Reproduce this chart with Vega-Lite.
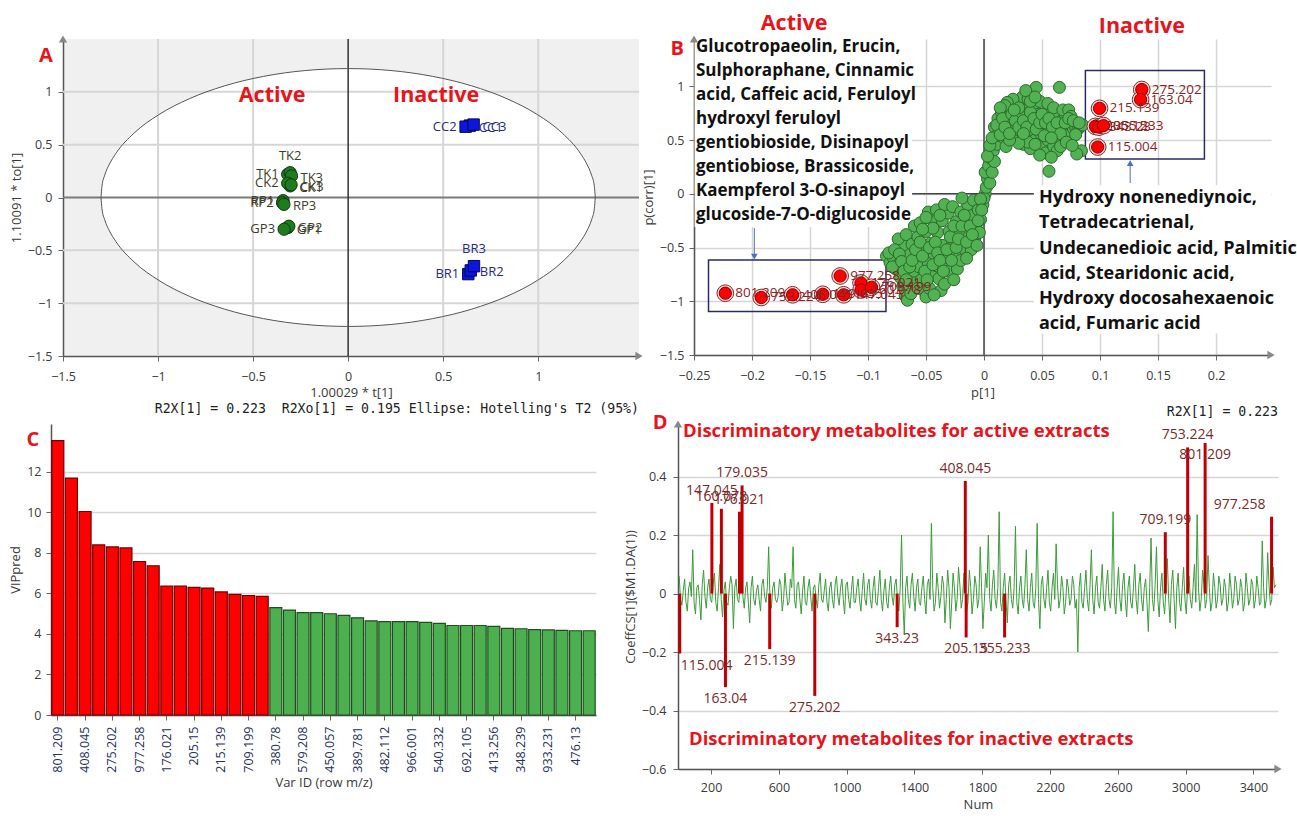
{
"$schema": "https://vega.github.io/schema/vega-lite/v6.json",
"background": "white",
"padding": {"left": 9, "top": 13, "right": 5, "bottom": 5},
"bounds": "flush",
"spacing": 385,
"config": {
  "view": {"stroke": null},
  "font": "Open Sans",
  "axis": {"labelFont": "Open Sans", "labelFontSize": 12.5, "labelColor": "#3a3a3a", "titleFont": "Open Sans", "titleFontSize": 13, "titleFontWeight": "normal", "titleColor": "#3a3a3a", "domainColor": "#555555", "domainWidth": 1.5, "tickColor": "#666666", "gridColor": "#d6d6d6", "gridWidth": 1.5, "labelFlush": false, "tickSize": 5}
},
"datasets": {
  "ellipse": [
    {"ex": 1.3, "top": 0, "bot": 0},
    {"ex": 1.2951, "top": 0.1063, "bot": -0.1063},
    {"ex": 1.2803, "top": 0.2118, "bot": -0.2118},
    {"ex": 1.2557, "top": 0.3158, "bot": -0.3158},
    {"ex": 1.2216, "top": 0.4173, "bot": -0.4173},
    {"ex": 1.1258, "top": 0.61, "bot": -0.61},
    {"ex": 0.9958, "top": 0.7842, "bot": -0.7842},
    {"ex": 0.8356, "top": 0.9346, "bot": -0.9346},
    {"ex": 0.65, "top": 1.0566, "bot": -1.0566},
    {"ex": 0.4446, "top": 1.1464, "bot": -1.1464},
    {"ex": 0.2257, "top": 1.2015, "bot": -1.2015},
    {"ex": 0, "top": 1.22, "bot": -1.22},
    {"ex": -0.2257, "top": 1.2015, "bot": -1.2015},
    {"ex": -0.4446, "top": 1.1464, "bot": -1.1464},
    {"ex": -0.65, "top": 1.0566, "bot": -1.0566},
    {"ex": -0.8356, "top": 0.9346, "bot": -0.9346},
    {"ex": -0.9958, "top": 0.7842, "bot": -0.7842},
    {"ex": -1.1258, "top": 0.61, "bot": -0.61},
    {"ex": -1.2216, "top": 0.4173, "bot": -0.4173},
    {"ex": -1.2557, "top": 0.3158, "bot": -0.3158},
    {"ex": -1.2803, "top": 0.2118, "bot": -0.2118},
    {"ex": -1.2951, "top": 0.1063, "bot": -0.1063},
    {"ex": -1.3, "top": 0, "bot": 0}
  ],
  "scores": [
    {"id": "TK1", "t": -0.318, "to": 0.22, "g": "a"},
    {"id": "TK2", "t": -0.305, "to": 0.235, "g": "a"},
    {"id": "TK3", "t": -0.298, "to": 0.205, "g": "a"},
    {"id": "CK1", "t": -0.305, "to": 0.11, "g": "a"},
    {"id": "CK2", "t": -0.318, "to": 0.135, "g": "a"},
    {"id": "CK3", "t": -0.3, "to": 0.12, "g": "a"},
    {"id": "RP1", "t": -0.342, "to": -0.03, "g": "a"},
    {"id": "RP2", "t": -0.345, "to": -0.05, "g": "a"},
    {"id": "RP3", "t": -0.338, "to": -0.065, "g": "a"},
    {"id": "GP1", "t": -0.318, "to": -0.285, "g": "a"},
    {"id": "GP2", "t": -0.312, "to": -0.272, "g": "a"},
    {"id": "GP3", "t": -0.337, "to": -0.3, "g": "a"},
    {"id": "CC1", "t": 0.64, "to": 0.68, "g": "i"},
    {"id": "CC2", "t": 0.618, "to": 0.67, "g": "i"},
    {"id": "CC3", "t": 0.66, "to": 0.69, "g": "i"},
    {"id": "BR1", "t": 0.632, "to": -0.725, "g": "i"},
    {"id": "BR2", "t": 0.645, "to": -0.69, "g": "i"},
    {"id": "BR3", "t": 0.662, "to": -0.65, "g": "i"}
  ],
  "splot": [
    {"p": -0.084, "pc": -0.58}, {"p": -0.081, "pc": -0.64}, {"p": -0.078, "pc": -0.6}, {"p": -0.076, "pc": -0.7}, {"p": -0.074, "pc": -0.66},
    {"p": -0.072, "pc": -0.78}, {"p": -0.07, "pc": -0.86}, {"p": -0.068, "pc": -0.95}, {"p": -0.066, "pc": -0.99}, {"p": -0.063, "pc": -0.93},
    {"p": -0.061, "pc": -0.82}, {"p": -0.06, "pc": -0.72}, {"p": -0.065, "pc": -0.56}, {"p": -0.07, "pc": -0.48}, {"p": -0.074, "pc": -0.42},
    {"p": -0.067, "pc": -0.38}, {"p": -0.062, "pc": -0.47}, {"p": -0.058, "pc": -0.6}, {"p": -0.056, "pc": -0.68}, {"p": -0.054, "pc": -0.8},
    {"p": -0.052, "pc": -0.9}, {"p": -0.05, "pc": -0.96}, {"p": -0.047, "pc": -0.88}, {"p": -0.045, "pc": -0.76}, {"p": -0.048, "pc": -0.64},
    {"p": -0.052, "pc": -0.52}, {"p": -0.057, "pc": -0.4}, {"p": -0.06, "pc": -0.3}, {"p": -0.055, "pc": -0.27}, {"p": -0.05, "pc": -0.35},
    {"p": -0.046, "pc": -0.46}, {"p": -0.043, "pc": -0.56}, {"p": -0.041, "pc": -0.67}, {"p": -0.039, "pc": -0.79}, {"p": -0.037, "pc": -0.9},
    {"p": -0.043, "pc": -0.94}, {"p": -0.034, "pc": -0.84}, {"p": -0.031, "pc": -0.72}, {"p": -0.033, "pc": -0.6}, {"p": -0.036, "pc": -0.48},
    {"p": -0.04, "pc": -0.36}, {"p": -0.045, "pc": -0.24}, {"p": -0.048, "pc": -0.17}, {"p": -0.041, "pc": -0.15}, {"p": -0.036, "pc": -0.25},
    {"p": -0.03, "pc": -0.35}, {"p": -0.027, "pc": -0.46}, {"p": -0.025, "pc": -0.58}, {"p": -0.023, "pc": -0.7}, {"p": -0.026, "pc": -0.8},
    {"p": -0.02, "pc": -0.62}, {"p": -0.018, "pc": -0.5}, {"p": -0.021, "pc": -0.38}, {"p": -0.024, "pc": -0.26}, {"p": -0.031, "pc": -0.18},
    {"p": -0.034, "pc": -0.1}, {"p": -0.027, "pc": -0.12}, {"p": -0.02, "pc": -0.17}, {"p": -0.016, "pc": -0.28}, {"p": -0.013, "pc": -0.4},
    {"p": -0.011, "pc": -0.52}, {"p": -0.015, "pc": -0.6}, {"p": -0.008, "pc": -0.42}, {"p": -0.007, "pc": -0.3}, {"p": -0.01, "pc": -0.2},
    {"p": -0.014, "pc": -0.1}, {"p": -0.019, "pc": -0.04}, {"p": -0.009, "pc": -0.06}, {"p": -0.005, "pc": -0.15}, {"p": -0.003, "pc": -0.24},
    {"p": -0.004, "pc": -0.36}, {"p": -0.001, "pc": -0.1}, {"p": 0.001, "pc": 0.0}, {"p": 0.0, "pc": -0.04},
    {"p": -0.082, "pc": -0.55}, {"p": -0.079, "pc": -0.68}, {"p": -0.077, "pc": -0.52}, {"p": -0.073, "pc": -0.56}, {"p": -0.071, "pc": -0.63},
    {"p": -0.069, "pc": -0.72}, {"p": -0.067, "pc": -0.8}, {"p": -0.064, "pc": -0.68}, {"p": -0.062, "pc": -0.62}, {"p": -0.059, "pc": -0.52},
    {"p": -0.057, "pc": -0.88}, {"p": -0.055, "pc": -0.45}, {"p": -0.053, "pc": -0.58}, {"p": -0.051, "pc": -0.72}, {"p": -0.049, "pc": -0.8},
    {"p": -0.047, "pc": -0.5}, {"p": -0.044, "pc": -0.66}, {"p": -0.042, "pc": -0.45}, {"p": -0.04, "pc": -0.55}, {"p": -0.038, "pc": -0.62},
    {"p": -0.035, "pc": -0.72}, {"p": -0.032, "pc": -0.52}, {"p": -0.029, "pc": -0.4}, {"p": -0.028, "pc": -0.62}, {"p": -0.026, "pc": -0.3},
    {"p": -0.024, "pc": -0.5}, {"p": -0.022, "pc": -0.42}, {"p": -0.019, "pc": -0.3}, {"p": -0.017, "pc": -0.2}, {"p": -0.015, "pc": -0.45},
    {"p": -0.012, "pc": -0.3}, {"p": -0.01, "pc": -0.38}, {"p": -0.006, "pc": -0.48}, {"p": -0.005, "pc": -0.25}, {"p": -0.003, "pc": -0.05},
    {"p": -0.002, "pc": -0.15}, {"p": -0.038, "pc": -0.2}, {"p": -0.044, "pc": -0.32}, {"p": -0.05, "pc": -0.22}, {"p": -0.053, "pc": -0.33},
    {"p": 0.002, "pc": 0.06}, {"p": 0.003, "pc": 0.14}, {"p": 0.001, "pc": 0.2}, {"p": 0.004, "pc": 0.26}, {"p": 0.006, "pc": 0.33},
    {"p": 0.005, "pc": 0.1}, {"p": 0.007, "pc": 0.2}, {"p": 0.008, "pc": 0.4}, {"p": 0.009, "pc": 0.3}, {"p": 0.011, "pc": 0.46},
    {"p": 0.01, "pc": 0.54}, {"p": 0.009, "pc": 0.62}, {"p": 0.013, "pc": 0.58}, {"p": 0.012, "pc": 0.7},
    {"p": 0.015, "pc": 0.76}, {"p": 0.016, "pc": 0.66}, {"p": 0.017, "pc": 0.52}, {"p": 0.019, "pc": 0.44}, {"p": 0.02, "pc": 0.6},
    {"p": 0.021, "pc": 0.72}, {"p": 0.023, "pc": 0.8}, {"p": 0.024, "pc": 0.66}, {"p": 0.026, "pc": 0.52}, {"p": 0.027, "pc": 0.6},
    {"p": 0.028, "pc": 0.74}, {"p": 0.029, "pc": 0.84}, {"p": 0.031, "pc": 0.7}, {"p": 0.032, "pc": 0.58}, {"p": 0.033, "pc": 0.9},
    {"p": 0.034, "pc": 0.46}, {"p": 0.035, "pc": 0.64}, {"p": 0.036, "pc": 0.78}, {"p": 0.037, "pc": 0.54}, {"p": 0.039, "pc": 0.7},
    {"p": 0.04, "pc": 0.42}, {"p": 0.041, "pc": 0.6}, {"p": 0.042, "pc": 0.95}, {"p": 0.043, "pc": 0.8}, {"p": 0.045, "pc": 0.99},
    {"p": 0.044, "pc": 0.5}, {"p": 0.046, "pc": 0.66}, {"p": 0.047, "pc": 0.74}, {"p": 0.049, "pc": 0.56}, {"p": 0.05, "pc": 0.44},
    {"p": 0.051, "pc": 0.62}, {"p": 0.052, "pc": 0.7}, {"p": 0.054, "pc": 0.76}, {"p": 0.053, "pc": 0.38}, {"p": 0.055, "pc": 0.5},
    {"p": 0.056, "pc": 0.21}, {"p": 0.057, "pc": 0.6}, {"p": 0.058, "pc": 0.68}, {"p": 0.06, "pc": 0.44}, {"p": 0.061, "pc": 0.56},
    {"p": 0.062, "pc": 0.72}, {"p": 0.064, "pc": 0.62}, {"p": 0.065, "pc": 0.99}, {"p": 0.066, "pc": 0.5}, {"p": 0.067, "pc": 0.68},
    {"p": 0.069, "pc": 0.58}, {"p": 0.07, "pc": 0.74}, {"p": 0.072, "pc": 0.62}, {"p": 0.074, "pc": 0.55}, {"p": 0.075, "pc": 0.66},
    {"p": 0.077, "pc": 0.61}, {"p": 0.079, "pc": 0.62}, {"p": 0.081, "pc": 0.6}, {"p": 0.083, "pc": 0.63}, {"p": 0.085, "pc": 0.64},
    {"p": 0.084, "pc": 0.4}, {"p": 0.08, "pc": 0.37}, {"p": 0.063, "pc": 0.4}, {"p": 0.058, "pc": 0.34}, {"p": 0.048, "pc": 0.36},
    {"p": 0.038, "pc": 0.48}, {"p": 0.03, "pc": 0.47}, {"p": 0.022, "pc": 0.5}, {"p": 0.025, "pc": 0.88}, {"p": 0.02, "pc": 0.85},
    {"p": 0.018, "pc": 0.82}, {"p": 0.014, "pc": 0.8}, {"p": 0.038, "pc": 0.88}, {"p": 0.036, "pc": 0.96}, {"p": 0.048, "pc": 0.86},
    {"p": 0.055, "pc": 0.84}, {"p": 0.06, "pc": 0.8}, {"p": 0.068, "pc": 0.78}, {"p": 0.073, "pc": 0.78}, {"p": 0.075, "pc": 0.72},
    {"p": 0.003, "pc": 0.35}, {"p": 0.005, "pc": 0.45}, {"p": 0.007, "pc": 0.52}, {"p": 0.011, "pc": 0.64}, {"p": 0.014, "pc": 0.55},
    {"p": 0.016, "pc": 0.7}, {"p": 0.018, "pc": 0.62}, {"p": 0.022, "pc": 0.56}, {"p": 0.024, "pc": 0.74}, {"p": 0.027, "pc": 0.68},
    {"p": 0.03, "pc": 0.62}, {"p": 0.032, "pc": 0.76}, {"p": 0.034, "pc": 0.68}, {"p": 0.037, "pc": 0.62}, {"p": 0.04, "pc": 0.76},
    {"p": 0.043, "pc": 0.7}, {"p": 0.045, "pc": 0.6}, {"p": 0.048, "pc": 0.66}, {"p": 0.05, "pc": 0.74}, {"p": 0.053, "pc": 0.66},
    {"p": 0.056, "pc": 0.7}, {"p": 0.059, "pc": 0.62}, {"p": 0.063, "pc": 0.66}, {"p": 0.066, "pc": 0.56}, {"p": 0.07, "pc": 0.66},
    {"p": 0.073, "pc": 0.7}, {"p": 0.077, "pc": 0.68}, {"p": 0.079, "pc": 0.55}, {"p": 0.082, "pc": 0.66}, {"p": 0.04, "pc": 0.86},
    {"p": 0.044, "pc": 0.9}, {"p": 0.03, "pc": 0.8}, {"p": 0.026, "pc": 0.78}, {"p": 0.034, "pc": 0.56}, {"p": 0.044, "pc": 0.46},
    {"p": 0.052, "pc": 0.54}, {"p": 0.058, "pc": 0.52}, {"p": 0.066, "pc": 0.44}, {"p": 0.071, "pc": 0.48}, {"p": 0.076, "pc": 0.45}
  ],
  "sred": [
    {"id": "275.202", "p": 0.136, "pc": 0.97},
    {"id": "163.04", "p": 0.135, "pc": 0.876},
    {"id": "215.139", "p": 0.0996, "pc": 0.795},
    {"id": "205.15", "p": 0.096, "pc": 0.627},
    {"id": "343.23", "p": 0.099, "pc": 0.62},
    {"id": "355.233", "p": 0.103, "pc": 0.634},
    {"id": "115.004", "p": 0.098, "pc": 0.435},
    {"id": "801.209", "p": -0.223, "pc": -0.925},
    {"id": "753.224", "p": -0.192, "pc": -0.965},
    {"id": "408.045", "p": -0.165, "pc": -0.94},
    {"id": "179.035", "p": -0.139, "pc": -0.935},
    {"id": "977.258", "p": -0.124, "pc": -0.765},
    {"id": "147.045", "p": -0.121, "pc": -0.94},
    {"id": "176.021", "p": -0.106, "pc": -0.83},
    {"id": "160.078", "p": -0.106, "pc": -0.895},
    {"id": "709.199", "p": -0.097, "pc": -0.87}
  ],
  "vip": [
    {"mz": "801.209", "v": 13.55, "s": "r"}, {"mz": "753.224", "v": 11.7, "s": "r"}, {"mz": "408.045", "v": 10.05, "s": "r"}, {"mz": "179.035", "v": 8.4, "s": "r"},
    {"mz": "275.202", "v": 8.3, "s": "r"}, {"mz": "147.045", "v": 8.25, "s": "r"}, {"mz": "977.258", "v": 7.58, "s": "r"}, {"mz": "163.04", "v": 7.37, "s": "r"},
    {"mz": "176.021", "v": 6.37, "s": "r"}, {"mz": "115.004", "v": 6.37, "s": "r"}, {"mz": "205.15", "v": 6.3, "s": "r"}, {"mz": "343.23", "v": 6.27, "s": "r"},
    {"mz": "215.139", "v": 6.08, "s": "r"}, {"mz": "355.233", "v": 5.96, "s": "r"}, {"mz": "709.199", "v": 5.9, "s": "r"}, {"mz": "160.078", "v": 5.86, "s": "r"},
    {"mz": "380.78", "v": 5.3, "s": "g"}, {"mz": "301.141", "v": 5.18, "s": "g"}, {"mz": "579.208", "v": 5.06, "s": "g"}, {"mz": "437.193", "v": 5.06, "s": "g"},
    {"mz": "450.057", "v": 5.0, "s": "g"}, {"mz": "623.283", "v": 4.92, "s": "g"}, {"mz": "389.781", "v": 4.8, "s": "g"}, {"mz": "593.152", "v": 4.65, "s": "g"},
    {"mz": "482.112", "v": 4.61, "s": "g"}, {"mz": "521.203", "v": 4.61, "s": "g"}, {"mz": "966.001", "v": 4.61, "s": "g"}, {"mz": "319.227", "v": 4.57, "s": "g"},
    {"mz": "540.332", "v": 4.52, "s": "g"}, {"mz": "287.237", "v": 4.42, "s": "g"}, {"mz": "692.105", "v": 4.42, "s": "g"}, {"mz": "741.224", "v": 4.42, "s": "g"},
    {"mz": "413.256", "v": 4.38, "s": "g"}, {"mz": "463.185", "v": 4.28, "s": "g"}, {"mz": "348.239", "v": 4.26, "s": "g"}, {"mz": "355.102", "v": 4.22, "s": "g"},
    {"mz": "933.231", "v": 4.2, "s": "g"}, {"mz": "611.161", "v": 4.18, "s": "g"}, {"mz": "476.13", "v": 4.16, "s": "g"}, {"mz": "265.148", "v": 4.16, "s": "g"}
  ],
  "coef": [
    {"n": 12, "c": 0.06}, {"n": 28, "c": -0.04}, {"n": 44, "c": 0.05}, {"n": 60, "c": -0.06}, {"n": 76, "c": 0.04},
    {"n": 92, "c": 0.15}, {"n": 108, "c": -0.07}, {"n": 124, "c": 0.03}, {"n": 140, "c": -0.09}, {"n": 156, "c": 0.08},
    {"n": 172, "c": -0.05}, {"n": 188, "c": 0.05}, {"n": 204, "c": -0.03}, {"n": 220, "c": 0.07}, {"n": 236, "c": -0.06},
    {"n": 252, "c": 0.1}, {"n": 268, "c": -0.08}, {"n": 284, "c": 0.04}, {"n": 300, "c": -0.04}, {"n": 316, "c": 0.06},
    {"n": 332, "c": -0.12}, {"n": 348, "c": 0.05}, {"n": 364, "c": -0.03}, {"n": 380, "c": 0.08}, {"n": 396, "c": -0.05},
    {"n": 412, "c": 0.04}, {"n": 428, "c": -0.1}, {"n": 444, "c": 0.06}, {"n": 460, "c": -0.04}, {"n": 476, "c": 0.03},
    {"n": 492, "c": -0.06}, {"n": 508, "c": 0.05}, {"n": 524, "c": -0.03}, {"n": 540, "c": 0.16}, {"n": 556, "c": -0.05},
    {"n": 572, "c": 0.04}, {"n": 588, "c": -0.03}, {"n": 604, "c": 0.05}, {"n": 620, "c": -0.06}, {"n": 636, "c": 0.07},
    {"n": 652, "c": -0.04}, {"n": 668, "c": 0.05}, {"n": 684, "c": 0.16}, {"n": 700, "c": -0.05}, {"n": 716, "c": 0.04},
    {"n": 732, "c": -0.07}, {"n": 748, "c": 0.06}, {"n": 764, "c": -0.04}, {"n": 780, "c": 0.05}, {"n": 796, "c": -0.06},
    {"n": 812, "c": 0.03}, {"n": 828, "c": -0.05}, {"n": 844, "c": 0.07}, {"n": 860, "c": -0.03}, {"n": 876, "c": 0.05},
    {"n": 892, "c": -0.06}, {"n": 908, "c": 0.04}, {"n": 924, "c": -0.05}, {"n": 940, "c": 0.06}, {"n": 956, "c": -0.04},
    {"n": 972, "c": 0.05}, {"n": 988, "c": -0.07}, {"n": 1004, "c": 0.04}, {"n": 1020, "c": -0.05}, {"n": 1036, "c": 0.06},
    {"n": 1052, "c": -0.03}, {"n": 1068, "c": 0.05}, {"n": 1084, "c": -0.06}, {"n": 1100, "c": 0.07}, {"n": 1116, "c": -0.04},
    {"n": 1132, "c": 0.05}, {"n": 1148, "c": -0.05}, {"n": 1164, "c": 0.06}, {"n": 1180, "c": -0.04}, {"n": 1196, "c": 0.08},
    {"n": 1212, "c": -0.06}, {"n": 1228, "c": 0.05}, {"n": 1244, "c": -0.05}, {"n": 1260, "c": 0.06}, {"n": 1276, "c": -0.04},
    {"n": 1292, "c": 0.05}, {"n": 1308, "c": -0.06}, {"n": 1324, "c": 0.2}, {"n": 1340, "c": -0.14}, {"n": 1356, "c": 0.06},
    {"n": 1372, "c": -0.05}, {"n": 1388, "c": 0.07}, {"n": 1404, "c": -0.06}, {"n": 1420, "c": 0.05}, {"n": 1436, "c": -0.04},
    {"n": 1452, "c": 0.06}, {"n": 1468, "c": -0.07}, {"n": 1484, "c": 0.05}, {"n": 1500, "c": 0.24}, {"n": 1516, "c": -0.06},
    {"n": 1532, "c": 0.07}, {"n": 1548, "c": -0.05}, {"n": 1564, "c": 0.06}, {"n": 1580, "c": -0.1}, {"n": 1596, "c": 0.08},
    {"n": 1612, "c": -0.12}, {"n": 1628, "c": 0.07}, {"n": 1644, "c": -0.06}, {"n": 1660, "c": 0.09}, {"n": 1676, "c": -0.05},
    {"n": 1692, "c": 0.07}, {"n": 1708, "c": -0.06}, {"n": 1724, "c": 0.08}, {"n": 1740, "c": -0.07}, {"n": 1756, "c": 0.06},
    {"n": 1772, "c": -0.05}, {"n": 1788, "c": 0.16}, {"n": 1804, "c": -0.12}, {"n": 1820, "c": 0.07}, {"n": 1836, "c": 0.2},
    {"n": 1852, "c": -0.06}, {"n": 1868, "c": 0.08}, {"n": 1884, "c": -0.05}, {"n": 1900, "c": 0.28}, {"n": 1916, "c": -0.06},
    {"n": 1932, "c": 0.07}, {"n": 1948, "c": -0.1}, {"n": 1964, "c": 0.06}, {"n": 1980, "c": -0.05}, {"n": 1996, "c": 0.23},
    {"n": 2012, "c": -0.07}, {"n": 2028, "c": 0.06}, {"n": 2044, "c": -0.05}, {"n": 2060, "c": 0.15}, {"n": 2076, "c": -0.06},
    {"n": 2092, "c": 0.07}, {"n": 2108, "c": -0.05}, {"n": 2124, "c": 0.24}, {"n": 2140, "c": -0.12}, {"n": 2156, "c": 0.06},
    {"n": 2172, "c": -0.05}, {"n": 2188, "c": 0.08}, {"n": 2204, "c": -0.06}, {"n": 2220, "c": 0.07}, {"n": 2236, "c": 0.17},
    {"n": 2252, "c": -0.05}, {"n": 2268, "c": 0.06}, {"n": 2284, "c": -0.07}, {"n": 2300, "c": 0.05}, {"n": 2316, "c": -0.04},
    {"n": 2332, "c": 0.06}, {"n": 2348, "c": -0.05}, {"n": 2364, "c": -0.2}, {"n": 2380, "c": 0.07}, {"n": 2396, "c": -0.05},
    {"n": 2412, "c": 0.08}, {"n": 2428, "c": -0.06}, {"n": 2444, "c": 0.15}, {"n": 2460, "c": -0.07}, {"n": 2476, "c": 0.06},
    {"n": 2492, "c": -0.05}, {"n": 2508, "c": 0.1}, {"n": 2524, "c": -0.06}, {"n": 2540, "c": 0.08}, {"n": 2556, "c": -0.05},
    {"n": 2572, "c": 0.28}, {"n": 2588, "c": -0.07}, {"n": 2604, "c": 0.09}, {"n": 2620, "c": -0.06}, {"n": 2636, "c": 0.07},
    {"n": 2652, "c": -0.08}, {"n": 2668, "c": 0.06}, {"n": 2684, "c": -0.05}, {"n": 2700, "c": 0.1}, {"n": 2716, "c": -0.07},
    {"n": 2732, "c": 0.07}, {"n": 2748, "c": -0.06}, {"n": 2764, "c": 0.05}, {"n": 2780, "c": -0.13}, {"n": 2796, "c": 0.19},
    {"n": 2812, "c": -0.06}, {"n": 2828, "c": 0.16}, {"n": 2844, "c": -0.08}, {"n": 2860, "c": 0.07}, {"n": 2876, "c": -0.07},
    {"n": 2892, "c": 0.12}, {"n": 2908, "c": -0.1}, {"n": 2924, "c": 0.08}, {"n": 2940, "c": -0.12}, {"n": 2956, "c": 0.07},
    {"n": 2972, "c": -0.06}, {"n": 2988, "c": 0.09}, {"n": 3004, "c": -0.07}, {"n": 3020, "c": 0.06}, {"n": 3036, "c": -0.05},
    {"n": 3052, "c": 0.1}, {"n": 3068, "c": 0.27}, {"n": 3084, "c": -0.06}, {"n": 3100, "c": 0.08}, {"n": 3116, "c": -0.05},
    {"n": 3132, "c": 0.13}, {"n": 3148, "c": -0.06}, {"n": 3164, "c": 0.07}, {"n": 3180, "c": -0.05}, {"n": 3196, "c": 0.06},
    {"n": 3212, "c": -0.04}, {"n": 3228, "c": 0.05}, {"n": 3244, "c": -0.06}, {"n": 3260, "c": 0.07}, {"n": 3276, "c": -0.05},
    {"n": 3292, "c": 0.06}, {"n": 3308, "c": -0.04}, {"n": 3324, "c": 0.05}, {"n": 3340, "c": -0.06}, {"n": 3356, "c": 0.07},
    {"n": 3372, "c": -0.04}, {"n": 3388, "c": 0.05}, {"n": 3404, "c": -0.05}, {"n": 3420, "c": 0.06}, {"n": 3436, "c": -0.04},
    {"n": 3452, "c": 0.18}, {"n": 3468, "c": -0.05}, {"n": 3484, "c": 0.14}, {"n": 3500, "c": -0.04}, {"n": 3516, "c": 0.09},
    {"n": 3532, "c": 0.03},
    {"n": 20, "c": -0.02}, {"n": 36, "c": 0.01}, {"n": 52, "c": -0.03}, {"n": 68, "c": 0.02}, {"n": 84, "c": -0.01}, {"n": 100, "c": -0.03}, {"n": 116, "c": 0.02}, {"n": 132, "c": -0.02}, {"n": 148, "c": 0.03}, {"n": 164, "c": -0.01},
    {"n": 180, "c": 0.02}, {"n": 196, "c": -0.02}, {"n": 212, "c": 0.03}, {"n": 228, "c": -0.03}, {"n": 244, "c": 0.02}, {"n": 260, "c": -0.02}, {"n": 276, "c": 0.01}, {"n": 292, "c": -0.03}, {"n": 308, "c": 0.02}, {"n": 324, "c": 0.03},
    {"n": 340, "c": 0.02}, {"n": 356, "c": -0.02}, {"n": 372, "c": 0.03}, {"n": 388, "c": -0.01}, {"n": 404, "c": 0.02}, {"n": 420, "c": -0.03}, {"n": 436, "c": 0.02}, {"n": 452, "c": -0.02}, {"n": 468, "c": 0.01}, {"n": 484, "c": -0.02},
    {"n": 500, "c": 0.03}, {"n": 516, "c": -0.01}, {"n": 532, "c": 0.02}, {"n": 548, "c": -0.03}, {"n": 564, "c": 0.02}, {"n": 580, "c": -0.02}, {"n": 596, "c": -0.01}, {"n": 612, "c": 0.03}, {"n": 628, "c": -0.02}, {"n": 644, "c": 0.01},
    {"n": 660, "c": -0.03}, {"n": 676, "c": 0.02}, {"n": 692, "c": -0.02}, {"n": 708, "c": 0.03}, {"n": 724, "c": -0.02}, {"n": 740, "c": 0.01}, {"n": 756, "c": -0.03}, {"n": 772, "c": 0.02}, {"n": 788, "c": -0.01}, {"n": 804, "c": 0.02},
    {"n": 820, "c": -0.02}, {"n": 836, "c": 0.03}, {"n": 852, "c": -0.02}, {"n": 868, "c": 0.01}, {"n": 884, "c": -0.03}, {"n": 900, "c": 0.02}, {"n": 916, "c": -0.02}, {"n": 932, "c": 0.03}, {"n": 948, "c": -0.01}, {"n": 964, "c": 0.02},
    {"n": 980, "c": -0.02}, {"n": 996, "c": 0.03}, {"n": 1012, "c": -0.02}, {"n": 1028, "c": 0.01}, {"n": 1044, "c": -0.03}, {"n": 1060, "c": 0.02}, {"n": 1076, "c": -0.02}, {"n": 1092, "c": 0.01}, {"n": 1108, "c": -0.02}, {"n": 1124, "c": 0.03},
    {"n": 1140, "c": -0.02}, {"n": 1156, "c": 0.02}, {"n": 1172, "c": -0.03}, {"n": 1188, "c": 0.02}, {"n": 1204, "c": -0.02}, {"n": 1220, "c": 0.01}, {"n": 1236, "c": -0.03}, {"n": 1252, "c": 0.02}, {"n": 1268, "c": -0.01}, {"n": 1284, "c": 0.03},
    {"n": 1300, "c": -0.02}, {"n": 1316, "c": 0.02}, {"n": 1332, "c": -0.03}, {"n": 1348, "c": 0.02}, {"n": 1364, "c": -0.02}, {"n": 1380, "c": 0.03}, {"n": 1396, "c": -0.01}, {"n": 1412, "c": 0.02}, {"n": 1428, "c": -0.03}, {"n": 1444, "c": 0.02},
    {"n": 1460, "c": -0.02}, {"n": 1476, "c": 0.03}, {"n": 1492, "c": -0.02}, {"n": 1508, "c": 0.02}, {"n": 1524, "c": -0.03}, {"n": 1540, "c": 0.02}, {"n": 1556, "c": -0.01}, {"n": 1572, "c": 0.03}, {"n": 1588, "c": -0.02}, {"n": 1604, "c": 0.02},
    {"n": 1620, "c": -0.03}, {"n": 1636, "c": 0.02}, {"n": 1652, "c": -0.02}, {"n": 1668, "c": 0.03}, {"n": 1684, "c": -0.02}, {"n": 1700, "c": 0.02}, {"n": 1716, "c": -0.03}, {"n": 1732, "c": 0.02}, {"n": 1748, "c": -0.02}, {"n": 1764, "c": 0.03},
    {"n": 1780, "c": -0.02}, {"n": 1796, "c": 0.02}, {"n": 1812, "c": -0.03}, {"n": 1828, "c": 0.02}, {"n": 1844, "c": -0.02}, {"n": 1860, "c": 0.03}, {"n": 1876, "c": -0.02}, {"n": 1892, "c": 0.02}, {"n": 1908, "c": -0.03}, {"n": 1924, "c": 0.02},
    {"n": 1940, "c": -0.02}, {"n": 1956, "c": 0.03}, {"n": 1972, "c": -0.02}, {"n": 1988, "c": 0.02}, {"n": 2004, "c": -0.03}, {"n": 2020, "c": 0.02}, {"n": 2036, "c": -0.02}, {"n": 2052, "c": 0.03}, {"n": 2068, "c": -0.02}, {"n": 2084, "c": 0.02},
    {"n": 2100, "c": -0.03}, {"n": 2116, "c": 0.02}, {"n": 2132, "c": -0.02}, {"n": 2148, "c": 0.03}, {"n": 2164, "c": -0.02}, {"n": 2180, "c": 0.02}, {"n": 2196, "c": -0.03}, {"n": 2212, "c": 0.02}, {"n": 2228, "c": -0.02}, {"n": 2244, "c": 0.03},
    {"n": 2260, "c": -0.02}, {"n": 2276, "c": 0.02}, {"n": 2292, "c": -0.03}, {"n": 2308, "c": 0.02}, {"n": 2324, "c": -0.02}, {"n": 2340, "c": 0.03}, {"n": 2356, "c": -0.02}, {"n": 2372, "c": 0.02}, {"n": 2388, "c": -0.03}, {"n": 2404, "c": 0.02},
    {"n": 2420, "c": -0.02}, {"n": 2436, "c": 0.03}, {"n": 2452, "c": -0.02}, {"n": 2468, "c": 0.02}, {"n": 2484, "c": -0.03}, {"n": 2500, "c": 0.02}, {"n": 2516, "c": -0.02}, {"n": 2532, "c": 0.03}, {"n": 2548, "c": -0.02}, {"n": 2564, "c": 0.02},
    {"n": 2580, "c": -0.03}, {"n": 2596, "c": 0.02}, {"n": 2612, "c": -0.02}, {"n": 2628, "c": 0.03}, {"n": 2644, "c": -0.02}, {"n": 2660, "c": 0.02}, {"n": 2676, "c": -0.03}, {"n": 2692, "c": 0.02}, {"n": 2708, "c": -0.02}, {"n": 2724, "c": 0.03},
    {"n": 2740, "c": -0.02}, {"n": 2756, "c": 0.02}, {"n": 2772, "c": -0.03}, {"n": 2788, "c": 0.02}, {"n": 2804, "c": -0.02}, {"n": 2820, "c": 0.03}, {"n": 2836, "c": -0.02}, {"n": 2852, "c": 0.02}, {"n": 2868, "c": -0.03}, {"n": 2884, "c": 0.02},
    {"n": 2900, "c": -0.02}, {"n": 2916, "c": 0.03}, {"n": 2932, "c": -0.02}, {"n": 2948, "c": 0.02}, {"n": 2964, "c": -0.03}, {"n": 2980, "c": 0.02}, {"n": 2996, "c": -0.02}, {"n": 3012, "c": 0.03}, {"n": 3028, "c": -0.02}, {"n": 3044, "c": 0.02},
    {"n": 3060, "c": -0.03}, {"n": 3076, "c": 0.02}, {"n": 3092, "c": -0.02}, {"n": 3108, "c": 0.03}, {"n": 3124, "c": -0.02}, {"n": 3140, "c": 0.02}, {"n": 3156, "c": -0.03}, {"n": 3172, "c": 0.02}, {"n": 3188, "c": -0.02}, {"n": 3204, "c": 0.03},
    {"n": 3220, "c": -0.02}, {"n": 3236, "c": 0.02}, {"n": 3252, "c": -0.03}, {"n": 3268, "c": 0.02}, {"n": 3284, "c": -0.02}, {"n": 3300, "c": 0.03}, {"n": 3316, "c": -0.02}, {"n": 3332, "c": 0.02}, {"n": 3348, "c": -0.03}, {"n": 3364, "c": 0.02},
    {"n": 3380, "c": -0.02}, {"n": 3396, "c": 0.03}, {"n": 3412, "c": -0.02}, {"n": 3428, "c": 0.02}, {"n": 3444, "c": -0.03}, {"n": 3460, "c": 0.02}, {"n": 3476, "c": -0.02}, {"n": 3492, "c": 0.03}, {"n": 3508, "c": -0.02}, {"n": 3524, "c": 0.02}
  ],
  "cred": [
    {"mz": "115.004", "n": 15, "c": -0.205},
    {"mz": "147.045", "n": 205, "c": 0.31},
    {"mz": "160.078", "n": 261, "c": 0.29},
    {"mz": "163.04", "n": 285, "c": -0.32},
    {"mz": "176.021", "n": 368, "c": 0.28},
    {"mz": "179.035", "n": 383, "c": 0.37},
    {"mz": "215.139", "n": 546, "c": -0.19},
    {"mz": "275.202", "n": 812, "c": -0.35},
    {"mz": "343.23", "n": 1298, "c": -0.115},
    {"mz": "408.045", "n": 1700, "c": 0.385},
    {"mz": "205.15", "n": 1705, "c": -0.15},
    {"mz": "355.233", "n": 1932, "c": -0.15},
    {"mz": "709.199", "n": 2880, "c": 0.21},
    {"mz": "753.224", "n": 3012, "c": 0.5},
    {"mz": "801.209", "n": 3115, "c": 0.515},
    {"mz": "977.258", "n": 3507, "c": 0.263}
  ]
},
"vconcat": [
  {
    "bounds": "flush",
    "spacing": 0,
    "hconcat": [
      {"width": 12, "height": 10, "data": {"values": []}, "mark": "point", "encoding": {}},
      {
        "width": 576, "height": 317,
        "view": {"fill": "#f0f0f0"},
        "layer": [
          {"data": {"name": "ellipse"}, "mark": {"type": "area", "color": "#ffffff", "interpolate": "monotone", "opacity": 1},
           "encoding": {
             "x": {"field": "ex", "type": "quantitative", "scale": {"domain": [-1.5, 1.53], "nice": false, "zero": false},
                   "axis": {"values": [-1.5, -1, -0.5, 0, 0.5, 1], "format": "~g", "title": "1.00029 * t[1]", "grid": false, "labelPadding": 9, "titlePadding": 4}},
             "y": {"field": "top", "type": "quantitative", "scale": {"domain": [-1.5, 1.5], "nice": false, "zero": false},
                   "axis": {"values": [-1.5, -1, -0.5, 0, 0.5, 1], "format": "~g", "title": "1.10091 * to[1]", "grid": false, "labelPadding": 6}},
             "y2": {"field": "bot"}
           }},
          {"data": {"values": [{"g": -1}, {"g": -0.5}, {"g": 0.5}, {"g": 1}]}, "mark": {"type": "rule", "color": "#d6d6d6", "strokeWidth": 2},
           "encoding": {"x": {"field": "g", "type": "quantitative"}}},
          {"data": {"values": [{"g": -1}, {"g": -0.5}, {"g": 0.5}, {"g": 1}]}, "mark": {"type": "rule", "color": "#d6d6d6", "strokeWidth": 2},
           "encoding": {"y": {"field": "g", "type": "quantitative"}}},
          {"data": {"values": [{}]}, "mark": {"type": "rule", "color": "#7a7a7a", "strokeWidth": 2}, "encoding": {"y": {"datum": 0}}},
          {"data": {"values": [{}]}, "mark": {"type": "rule", "color": "#333333", "strokeWidth": 1.5}, "encoding": {"x": {"datum": 0}}},
          {"data": {"name": "ellipse"}, "mark": {"type": "line", "color": "#555555", "strokeWidth": 1, "interpolate": "monotone"},
           "encoding": {"x": {"field": "ex", "type": "quantitative"}, "y": {"field": "top", "type": "quantitative"}}},
          {"data": {"name": "ellipse"}, "mark": {"type": "line", "color": "#555555", "strokeWidth": 1, "interpolate": "monotone"},
           "encoding": {"x": {"field": "ex", "type": "quantitative"}, "y": {"field": "bot", "type": "quantitative"}}},
          {"data": {"name": "scores"}, "transform": [{"filter": "datum.g == 'a'"}],
           "mark": {"type": "point", "shape": "circle", "filled": true, "size": 150, "fill": "#1e7b1e", "stroke": "#0d3b0d", "strokeWidth": 1, "opacity": 1},
           "encoding": {"x": {"field": "t", "type": "quantitative"}, "y": {"field": "to", "type": "quantitative"}}},
          {"data": {"name": "scores"}, "transform": [{"filter": "datum.g == 'i'"}],
           "mark": {"type": "point", "shape": "square", "filled": true, "size": 130, "fill": "#0b16e0", "stroke": "#08084a", "strokeWidth": 1, "opacity": 1},
           "encoding": {"x": {"field": "t", "type": "quantitative"}, "y": {"field": "to", "type": "quantitative"}}},
          {"data": {"name": "scores"}, "transform": [{"filter": {"field": "id", "oneOf": ["TK1", "CK2", "RP1", "RP2", "GP3", "CC2", "BR1"]}}],
           "mark": {"type": "text", "align": "right", "baseline": "middle", "dx": -9, "fontSize": 13, "font": "Open Sans"},
           "encoding": {"x": {"field": "t", "type": "quantitative"}, "y": {"field": "to", "type": "quantitative"}, "text": {"field": "id", "type": "nominal"},
                        "color": {"condition": {"test": "datum.g == 'i'", "value": "#2a2a7a"}, "value": "#3d3d2a"}}},
          {"data": {"name": "scores"}, "transform": [{"filter": {"field": "id", "oneOf": ["TK3", "CK1", "CK3", "RP3", "GP1", "GP2", "CC1", "CC3", "BR2"]}}],
           "mark": {"type": "text", "align": "left", "baseline": "middle", "dx": 9, "dy": 2, "fontSize": 13, "font": "Open Sans"},
           "encoding": {"x": {"field": "t", "type": "quantitative"}, "y": {"field": "to", "type": "quantitative"}, "text": {"field": "id", "type": "nominal"},
                        "color": {"condition": {"test": "datum.g == 'i'", "value": "#2a2a7a"}, "value": "#3d3d2a"}}},
          {"data": {"name": "scores"}, "transform": [{"filter": {"field": "id", "oneOf": ["TK2", "BR3"]}}],
           "mark": {"type": "text", "align": "center", "baseline": "bottom", "dy": -10, "fontSize": 13, "font": "Open Sans"},
           "encoding": {"x": {"field": "t", "type": "quantitative"}, "y": {"field": "to", "type": "quantitative"}, "text": {"field": "id", "type": "nominal"},
                        "color": {"condition": {"test": "datum.g == 'i'", "value": "#2a2a7a"}, "value": "#3d3d2a"}}},
          {"data": {"values": [{}]}, "mark": {"type": "text", "text": "Active", "font": "Open Sans", "fontWeight": "bold", "fontSize": 21.5, "color": "#e8141b", "align": "center", "baseline": "middle"},
           "encoding": {"x": {"datum": -0.4}, "y": {"datum": 0.96}}},
          {"data": {"values": [{}]}, "mark": {"type": "text", "text": "Inactive", "font": "Open Sans", "fontWeight": "bold", "fontSize": 21.5, "color": "#e8141b", "align": "center", "baseline": "middle"},
           "encoding": {"x": {"datum": 0.463}, "y": {"datum": 0.96}}},
          {"data": {"values": [{}]}, "mark": {"type": "text", "text": "A", "font": "Open Sans", "fontWeight": "bold", "fontSize": 20, "color": "#e8141b", "align": "center", "baseline": "middle"},
           "encoding": {"x": {"datum": -1.59}, "y": {"datum": 1.34}}},
          {"data": {"values": [{}]}, "mark": {"type": "text", "text": "R2X[1] = 0.223\u00a0\u00a0R2Xo[1] = 0.195 Ellipse: Hotelling's T2 (95%)", "font": "DejaVu Sans Mono", "fontSize": 13.2, "color": "#222222", "align": "right", "baseline": "middle"},
           "encoding": {"x": {"datum": 1.53}, "y": {"datum": -2.0}}},
          {"data": {"values": [{}]}, "mark": {"type": "point", "shape": "triangle-up", "filled": true, "size": 70, "color": "#888888", "opacity": 1},
           "encoding": {"x": {"datum": -1.5}, "y": {"datum": 1.5}}},
          {"data": {"values": [{}]}, "mark": {"type": "point", "shape": "triangle-right", "filled": true, "size": 70, "color": "#888888", "opacity": 1},
           "encoding": {"x": {"datum": 1.53}, "y": {"datum": -1.5}}}
        ]
      },
      {"width": 55, "height": 10, "data": {"values": []}, "mark": "point", "encoding": {}},
      {
        "width": 577, "height": 316,
        "layer": [
          {"data": {"values": [{}]}, "mark": {"type": "rule", "color": "#444444", "strokeWidth": 1.5}, "encoding": {"y": {"datum": 0}}},
          {"data": {"values": [{}]}, "mark": {"type": "rect", "color": "#ffffff", "opacity": 1},
           "encoding": {"x": {"datum": -0.2495}, "x2": {"datum": -0.062}, "y": {"datum": 1.44}, "y2": {"datum": -0.31}}},
          {"data": {"values": [{}]}, "mark": {"type": "rect", "color": "#ffffff", "opacity": 1},
           "encoding": {"x": {"datum": 0.043}, "x2": {"datum": 0.2474}, "y": {"datum": 0.08}, "y2": {"datum": -1.3}}},
          {"data": {"values": [{}]}, "mark": {"type": "rule", "color": "#444444", "strokeWidth": 1.5}, "encoding": {"x": {"datum": 0}}},
          {"data": {"values": [{}]}, "mark": {"type": "rect", "filled": false, "stroke": "#2a2a6a", "strokeWidth": 1.5},
           "encoding": {"x": {"datum": -0.2375}, "x2": {"datum": -0.0845}, "y": {"datum": -0.615}, "y2": {"datum": -1.096}}},
          {"data": {"values": [{}]}, "mark": {"type": "rect", "filled": false, "stroke": "#2a2a6a", "strokeWidth": 1.5},
           "encoding": {"x": {"datum": 0.0874}, "x2": {"datum": 0.19}, "y": {"datum": 1.146}, "y2": {"datum": 0.323}}},
          {"data": {"values": [{}]}, "mark": {"type": "rule", "color": "#4a6fc0", "strokeWidth": 1},
           "encoding": {"x": {"datum": -0.198}, "y": {"datum": -0.32}, "y2": {"datum": -0.58}}},
          {"data": {"values": [{}]}, "mark": {"type": "point", "shape": "triangle-down", "filled": true, "size": 45, "color": "#4a6fc0", "opacity": 1},
           "encoding": {"x": {"datum": -0.198}, "y": {"datum": -0.585}}},
          {"data": {"values": [{}]}, "mark": {"type": "rule", "color": "#4a6fc0", "strokeWidth": 1},
           "encoding": {"x": {"datum": 0.126}, "y": {"datum": 0.1}, "y2": {"datum": 0.28}}},
          {"data": {"values": [{}]}, "mark": {"type": "point", "shape": "triangle-up", "filled": true, "size": 45, "color": "#4a6fc0", "opacity": 1},
           "encoding": {"x": {"datum": 0.126}, "y": {"datum": 0.285}}},
          {"data": {"name": "splot"},
           "mark": {"type": "point", "shape": "circle", "filled": true, "size": 145, "fill": "#52b152", "stroke": "#2c6a2c", "strokeWidth": 1, "opacity": 1},
           "encoding": {
             "x": {"field": "p", "type": "quantitative", "scale": {"domain": [-0.25, 0.2474], "nice": false, "zero": false},
                   "axis": {"values": [-0.25, -0.2, -0.15, -0.1, -0.05, 0, 0.05, 0.1, 0.15, 0.2], "format": "~g", "title": "p[1]", "grid": true, "labelPadding": 9, "titlePadding": 5}},
             "y": {"field": "pc", "type": "quantitative", "scale": {"domain": [-1.5, 1.44], "nice": false, "zero": false},
                   "axis": {"values": [-1.5, -1, -0.5, 0, 0.5, 1], "format": "~g", "title": "p(corr)[1]", "grid": true, "labelPadding": 5}}
           }},
          {"data": {"name": "sred"},
           "mark": {"type": "point", "shape": "circle", "filled": true, "size": 280, "fill": "#f3d6d6", "stroke": "#8b2a2a", "strokeWidth": 1, "opacity": 1},
           "encoding": {"x": {"field": "p", "type": "quantitative"}, "y": {"field": "pc", "type": "quantitative"}}},
          {"data": {"name": "sred"},
           "mark": {"type": "point", "shape": "circle", "filled": true, "size": 150, "fill": "#ff0000", "stroke": "#8b0000", "strokeWidth": 1, "opacity": 1},
           "encoding": {"x": {"field": "p", "type": "quantitative"}, "y": {"field": "pc", "type": "quantitative"}}},
          {"data": {"name": "sred"},
           "mark": {"type": "text", "align": "left", "baseline": "middle", "dx": 10, "fontSize": 13.5, "font": "Open Sans", "color": "#8b2323"},
           "encoding": {"x": {"field": "p", "type": "quantitative"}, "y": {"field": "pc", "type": "quantitative"}, "text": {"field": "id", "type": "nominal"}}},
          {"data": {"values": [{}]},
           "mark": {"type": "text", "align": "left", "baseline": "top", "font": "Open Sans", "fontWeight": "bold", "fontSize": 17, "lineHeight": 24, "color": "#111111",
                    "text": ["Glucotropaeolin, Erucin,", "Sulphoraphane, Cinnamic", "acid, Caffeic acid, Feruloyl", "hydroxyl feruloyl", "gentiobioside, Disinapoyl", "gentiobiose, Brassicoside,", "Kaempferol 3-O-sinapoyl", "glucoside-7-O-diglucoside"]},
           "encoding": {"x": {"datum": -0.2483}, "y": {"datum": 1.44}}},
          {"data": {"values": [{}]},
           "mark": {"type": "text", "align": "left", "baseline": "top", "font": "Open Sans", "fontWeight": "bold", "fontSize": 18, "lineHeight": 25.3, "color": "#111111",
                    "text": ["Hydroxy nonenediynoic,", "Tetradecatrienal,", "Undecanedioic acid, Palmitic", "acid, Stearidonic acid,", "Hydroxy docosahexaenoic", "acid, Fumaric acid"]},
           "encoding": {"x": {"datum": 0.0474}, "y": {"datum": 0.045}}},
          {"data": {"values": [{}]}, "mark": {"type": "text", "text": "Active", "font": "Open Sans", "fontWeight": "bold", "fontSize": 21.5, "color": "#e8141b", "align": "center", "baseline": "middle"},
           "encoding": {"x": {"datum": -0.1637}, "y": {"datum": 1.579}}},
          {"data": {"values": [{}]}, "mark": {"type": "text", "text": "Inactive", "font": "Open Sans", "fontWeight": "bold", "fontSize": 21.5, "color": "#e8141b", "align": "center", "baseline": "middle"},
           "encoding": {"x": {"datum": 0.1361}, "y": {"datum": 1.551}}},
          {"data": {"values": [{}]}, "mark": {"type": "text", "text": "B", "font": "Open Sans", "fontWeight": "bold", "fontSize": 20, "color": "#e8141b", "align": "center", "baseline": "middle"},
           "encoding": {"x": {"datum": -0.2645}, "y": {"datum": 1.347}}},
          {"data": {"values": [{}]}, "mark": {"type": "point", "shape": "triangle-up", "filled": true, "size": 70, "color": "#888888", "opacity": 1},
           "encoding": {"x": {"datum": -0.25}, "y": {"datum": 1.44}}},
          {"data": {"values": [{}]}, "mark": {"type": "point", "shape": "triangle-right", "filled": true, "size": 70, "color": "#888888", "opacity": 1},
           "encoding": {"x": {"datum": 0.2474}, "y": {"datum": -1.5}}}
        ]
      }
    ]
  },
  {
    "bounds": "flush",
    "spacing": 0,
    "hconcat": [
      {
        "width": 545, "height": 291,
        "layer": [
          {"data": {"name": "vip"}, "mark": {"type": "bar", "strokeWidth": 1.2},
           "encoding": {
             "x": {"field": "mz", "type": "ordinal", "sort": null, "scale": {"paddingInner": 0.12, "paddingOuter": 0.06},
                   "axis": {"values": ["801.209", "408.045", "275.202", "977.258", "176.021", "205.15", "215.139", "709.199", "380.78", "579.208", "450.057", "389.781", "482.112", "966.001", "540.332", "692.105", "413.256", "348.239", "933.231", "476.13"],
                            "labelAngle": -90, "title": "Var ID (row m/z)", "labelColor": "#28305c", "labelPadding": 6, "titlePadding": 4}},
             "y": {"field": "v", "type": "quantitative", "scale": {"domain": [0, 14.37], "nice": false},
                   "axis": {"values": [0, 2, 4, 6, 8, 10, 12], "title": "VIPpred", "grid": true, "labelPadding": 5}},
             "color": {"field": "s", "type": "nominal", "scale": {"domain": ["r", "g"], "range": ["#ff0000", "#4caf50"]}, "legend": null},
             "stroke": {"field": "s", "type": "nominal", "scale": {"domain": ["r", "g"], "range": ["#6b0000", "#1f4f1f"]}, "legend": null}
           }},
          {"data": {"values": [{}]}, "mark": {"type": "text", "text": "C", "font": "Open Sans", "fontWeight": "bold", "fontSize": 20, "color": "#e8141b", "align": "center", "baseline": "middle", "dx": -25},
           "encoding": {"x": {"datum": "801.209"}, "y": {"datum": 13.58}}}
        ]
      },
      {"width": 82, "height": 10, "data": {"values": []}, "mark": "point", "encoding": {}},
      {
        "width": 600, "height": 345,
        "layer": [
          {"data": {"name": "coef"}, "mark": {"type": "line", "color": "#3b9b3b", "strokeWidth": 1},
           "encoding": {
             "x": {"field": "n", "type": "quantitative", "scale": {"domain": [5, 3545], "nice": false, "zero": false},
                   "axis": {"values": [200, 600, 1000, 1400, 1800, 2200, 2600, 3000, 3400], "format": "d", "title": "Num", "grid": false, "labelPadding": 7, "titlePadding": 5}},
             "y": {"field": "c", "type": "quantitative", "scale": {"domain": [-0.6, 0.58], "nice": false, "zero": false},
                   "axis": {"values": [-0.6, -0.4, -0.2, 0, 0.2, 0.4], "format": "~g", "title": "CoeffCS[1]($M1.DA(1))", "grid": true, "labelPadding": 7}}
           }},
          {"data": {"name": "cred"}, "mark": {"type": "rule", "color": "#c00000", "strokeWidth": 3},
           "encoding": {"x": {"field": "n", "type": "quantitative"}, "y": {"field": "c", "type": "quantitative"}, "y2": {"datum": 0}}},
          {"data": {"name": "cred"}, "transform": [{"filter": "datum.c > 0 && datum.mz != '977.258' && datum.mz != '801.209'"}],
           "mark": {"type": "text", "font": "Open Sans", "fontSize": 14, "color": "#7b2a2a", "align": "center", "baseline": "bottom", "dy": -5},
           "encoding": {"x": {"field": "n", "type": "quantitative"}, "y": {"field": "c", "type": "quantitative"}, "text": {"field": "mz", "type": "nominal"}}},
          {"data": {"name": "cred"}, "transform": [{"filter": "datum.mz == '977.258'"}],
           "mark": {"type": "text", "font": "Open Sans", "fontSize": 14, "color": "#7b2a2a", "align": "right", "baseline": "bottom", "dx": -6, "dy": -5},
           "encoding": {"x": {"field": "n", "type": "quantitative"}, "y": {"field": "c", "type": "quantitative"}, "text": {"field": "mz", "type": "nominal"}}},
          {"data": {"name": "cred"}, "transform": [{"filter": "datum.mz == '801.209'"}],
           "mark": {"type": "text", "font": "Open Sans", "fontSize": 14, "color": "#7b2a2a", "align": "center", "baseline": "middle", "dy": 12},
           "encoding": {"x": {"field": "n", "type": "quantitative"}, "y": {"field": "c", "type": "quantitative"}, "text": {"field": "mz", "type": "nominal"}}},
          {"data": {"name": "cred"}, "transform": [{"filter": "datum.c < 0 && datum.mz != '115.004'"}],
           "mark": {"type": "text", "font": "Open Sans", "fontSize": 14, "color": "#7b2a2a", "align": "center", "baseline": "top", "dy": 5},
           "encoding": {"x": {"field": "n", "type": "quantitative"}, "y": {"field": "c", "type": "quantitative"}, "text": {"field": "mz", "type": "nominal"}}},
          {"data": {"name": "cred"}, "transform": [{"filter": "datum.mz == '115.004'"}],
           "mark": {"type": "text", "font": "Open Sans", "fontSize": 14, "color": "#7b2a2a", "align": "left", "baseline": "top", "dx": 1, "dy": 5},
           "encoding": {"x": {"field": "n", "type": "quantitative"}, "y": {"field": "c", "type": "quantitative"}, "text": {"field": "mz", "type": "nominal"}}},
          {"data": {"values": [{}]}, "mark": {"type": "text", "text": "Discriminatory metabolites for active extracts", "font": "Open Sans", "fontWeight": "bold", "fontSize": 18.5, "color": "#e8141b", "align": "left", "baseline": "middle"},
           "encoding": {"x": {"datum": 35}, "y": {"datum": 0.556}}},
          {"data": {"values": [{}]}, "mark": {"type": "text", "text": "Discriminatory metabolites for inactive extracts", "font": "Open Sans", "fontWeight": "bold", "fontSize": 18.5, "color": "#e8141b", "align": "left", "baseline": "middle"},
           "encoding": {"x": {"datum": 70}, "y": {"datum": -0.497}}},
          {"data": {"values": [{}]}, "mark": {"type": "text", "text": "D", "font": "Open Sans", "fontWeight": "bold", "fontSize": 20, "color": "#e8141b", "align": "center", "baseline": "middle"},
           "encoding": {"x": {"datum": -100}, "y": {"datum": 0.583}}},
          {"data": {"values": [{}]}, "mark": {"type": "text", "text": "R2X[1] = 0.223", "font": "DejaVu Sans Mono", "fontSize": 13.2, "color": "#222222", "align": "right", "baseline": "middle"},
           "encoding": {"x": {"datum": 3545}, "y": {"datum": 0.621}}},
          {"data": {"values": [{}]}, "mark": {"type": "point", "shape": "triangle-up", "filled": true, "size": 70, "color": "#888888", "opacity": 1},
           "encoding": {"x": {"datum": 5}, "y": {"datum": 0.58}}},
          {"data": {"values": [{}]}, "mark": {"type": "point", "shape": "triangle-right", "filled": true, "size": 70, "color": "#888888", "opacity": 1},
           "encoding": {"x": {"datum": 3545}, "y": {"datum": -0.6}}}
        ]
      }
    ]
  }
]
}
